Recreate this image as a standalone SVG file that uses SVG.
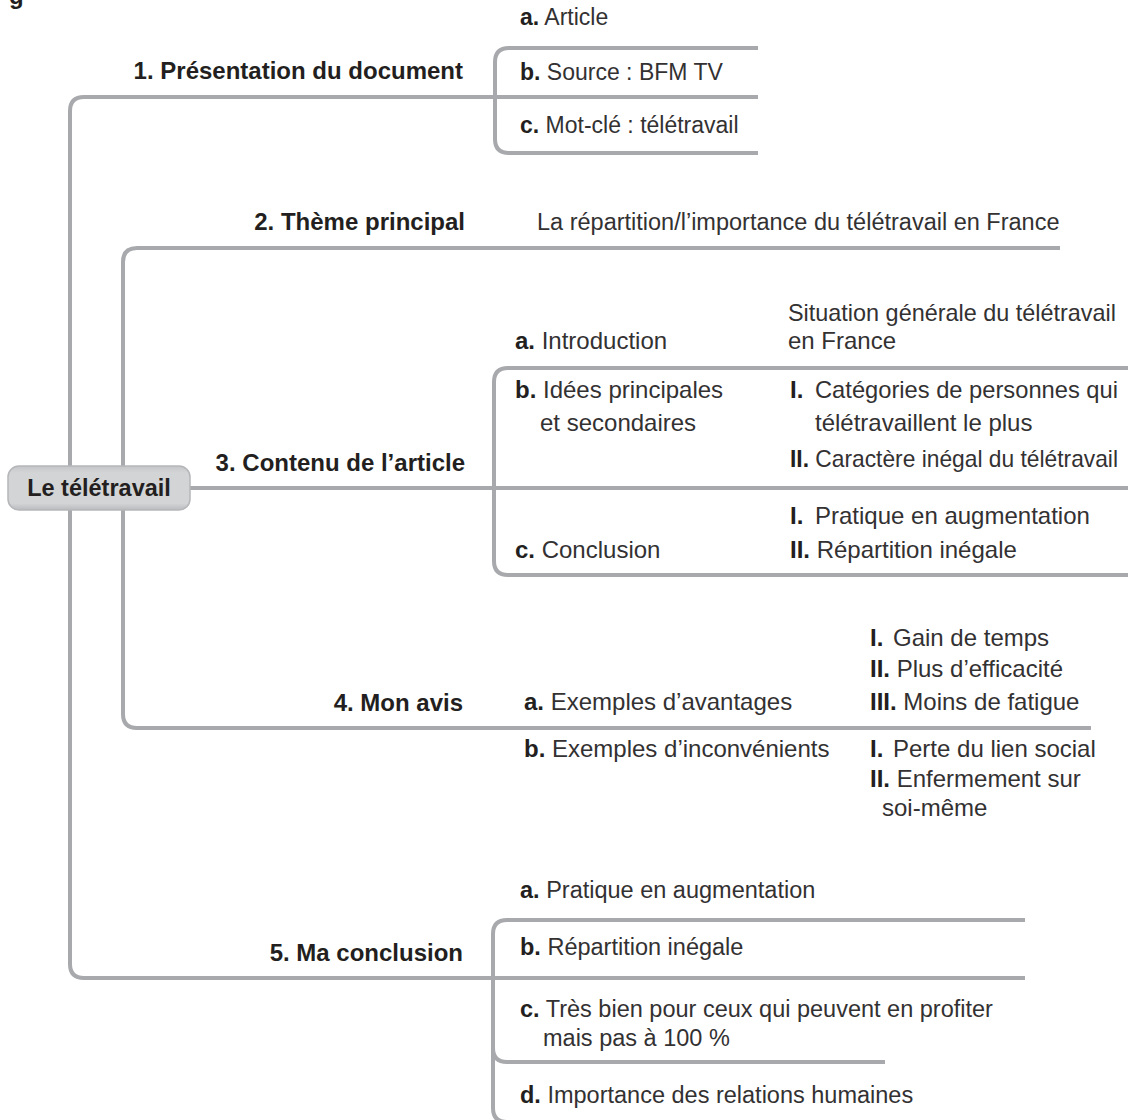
<svg xmlns="http://www.w3.org/2000/svg" width="1128" height="1120" viewBox="0 0 1128 1120">
<style>
text{font-family:"Liberation Sans",Arial,sans-serif;font-size:24px;fill:#333132}
.b{font-weight:bold;fill:#231f20}
.lbl{font-weight:bold;fill:#231f20;text-anchor:end}
.s1{font-size:23px}
.s2{font-size:23.5px}
.s5{font-size:23.5px}
.ln{fill:none;stroke:#a8a9ac;stroke-width:4;stroke-linecap:butt;stroke-linejoin:round}
</style>
<defs>
<linearGradient id="rootg" x1="0" y1="0" x2="0" y2="1">
<stop offset="0" stop-color="#c4c5c7"/>
<stop offset="0.15" stop-color="#d3d4d6"/>
<stop offset="0.85" stop-color="#d3d4d6"/>
<stop offset="1" stop-color="#b9babd"/>
</linearGradient>
</defs>
<text class="b" x="9" y="4">g</text>
<g id="connectors">
<path class="ln" d="M758 97 H84 Q70 97 70 111 V964 Q70 978 84 978 H1025"/>
<path class="ln" d="M1060 248 H137 Q123 248 123 262 V714 Q123 728 137 728 H1091"/>
<path class="ln" d="M190 488 H1128"/>
<path class="ln" d="M758 48 H509 Q495 48 495 62 V139 Q495 153 509 153 H758"/>
<path class="ln" d="M1128 368 H508 Q494 368 494 382 V561 Q494 575 508 575 H1128"/>
<path class="ln" d="M1025 920 H507 Q493 920 493 934 V1048 Q493 1062 507 1062 H885"/>
<path class="ln" d="M493 978 V1108 Q493 1122 507 1122 H900"/>
</g>
<g id="root">
<rect x="8" y="466" width="182" height="44" rx="11" fill="url(#rootg)" stroke="#b5b6b9" stroke-width="1.5"/>
<text class="b" x="99" y="496" text-anchor="middle" style="font-size:23.5px">Le télétravail</text>
</g>
<g id="s1">
<text class="lbl" x="463" y="79">1. Présentation du document</text>
<text class="s1" x="520" y="25"><tspan class="b">a.</tspan> Article</text>
<text class="s1" x="520" y="80"><tspan class="b">b.</tspan> Source : BFM TV</text>
<text class="s1" x="520" y="133"><tspan class="b">c.</tspan> Mot-clé : télétravail</text>
</g>
<g id="s2">
<text class="lbl" x="465" y="230">2. Thème principal</text>
<text class="s2" x="537" y="230">La répartition/l’importance du télétravail en France</text>
</g>
<g id="s3">
<text class="lbl" x="465" y="471">3. Contenu de l’article</text>
<text x="515" y="349"><tspan class="b">a.</tspan> Introduction</text>
<text x="788" y="321" textLength="328" lengthAdjust="spacingAndGlyphs">Situation générale du télétravail</text>
<text x="788" y="349">en France</text>
<text x="515" y="398"><tspan class="b">b.</tspan> Idées principales</text>
<text x="540" y="431">et secondaires</text>
<text x="790" y="398"><tspan class="b">I.</tspan></text>
<text x="815" y="398" textLength="303" lengthAdjust="spacingAndGlyphs">Catégories de personnes qui</text>
<text x="815" y="431">télétravaillent le plus</text>
<text x="790" y="467" textLength="328" lengthAdjust="spacingAndGlyphs"><tspan class="b">II.</tspan> Caractère inégal du télétravail</text>
<text x="790" y="524"><tspan class="b">I.</tspan></text>
<text x="815" y="524">Pratique en augmentation</text>
<text x="515" y="558"><tspan class="b">c.</tspan> Conclusion</text>
<text x="790" y="558"><tspan class="b">II.</tspan> Répartition inégale</text>
</g>
<g id="s4">
<text class="lbl" x="463" y="711">4. Mon avis</text>
<text x="524" y="710"><tspan class="b">a.</tspan> Exemples d’avantages</text>
<text x="870" y="646"><tspan class="b">I.</tspan></text>
<text x="893" y="646">Gain de temps</text>
<text x="870" y="677"><tspan class="b">II.</tspan> Plus d’efficacité</text>
<text x="870" y="710"><tspan class="b">III.</tspan> Moins de fatigue</text>
<text x="524" y="757"><tspan class="b">b.</tspan> Exemples d’inconvénients</text>
<text x="870" y="757"><tspan class="b">I.</tspan></text>
<text x="893" y="757">Perte du lien social</text>
<text x="870" y="787"><tspan class="b">II.</tspan> Enfermement sur</text>
<text x="882" y="816">soi-même</text>
</g>
<g id="s5">
<text class="lbl" x="463" y="961">5. Ma conclusion</text>
<text class="s5" x="520" y="898"><tspan class="b">a.</tspan> Pratique en augmentation</text>
<text class="s5" x="520" y="955"><tspan class="b">b.</tspan> Répartition inégale</text>
<text class="s5" x="520" y="1017"><tspan class="b">c.</tspan> Très bien pour ceux qui peuvent en profiter</text>
<text class="s5" x="543" y="1046">mais pas à 100 %</text>
<text class="s5" x="520" y="1103"><tspan class="b">d.</tspan> Importance des relations humaines</text>
</g>
</svg>
